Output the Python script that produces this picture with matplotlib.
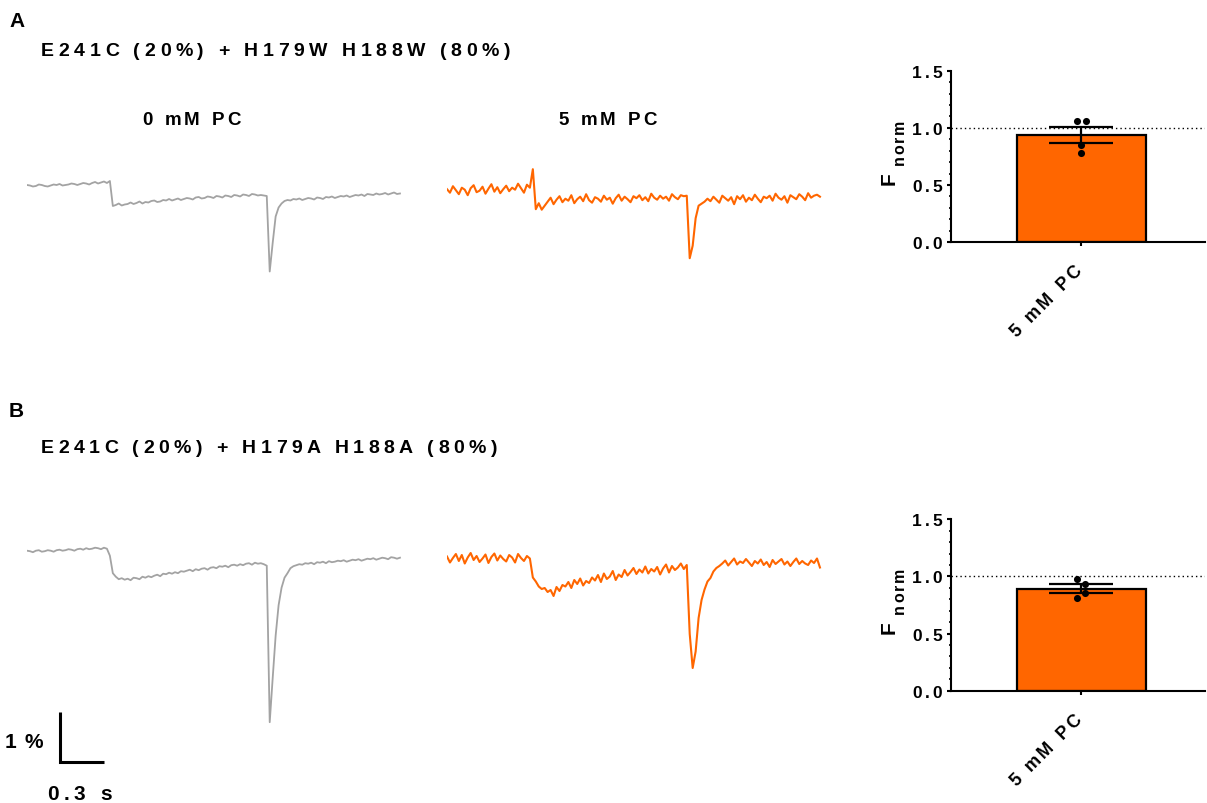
import numpy as np
import matplotlib
matplotlib.use("Agg")
import matplotlib.pyplot as plt
from matplotlib.font_manager import FontProperties
from matplotlib.ticker import MultipleLocator

# ---- data ----------------------------------------------------------------
# fluorescence traces, one sample every 20 ms, values in 0.01 % (dF/F)
DT = 0.02
trace_a_0pc = [
    0, -1, -3, -2, 1, 0, -2, -3, -1, 1, 0, 2, -1, 0, 1, 3, 2, 0, 2, 4,
    3, 1, 4, 6, 3, 5, 7, 4, 8,
    -42, -40, -37, -41, -39, -38, -35, -38, -36, -33,
    -37, -34, -35, -32, -31, -34, -33, -30, -31, -28,
    -31, -29, -27, -30, -28, -26, -27, -29, -25, -24,
    -27, -26, -23, -24, -26, -22, -23, -25, -21, -22,
    -24, -20, -21, -23, -19, -20, -22, -18, -19, -21, -20, -21,
    -22, -173, -116, -63, -45, -37, -32,
    -30, -31, -28, -29, -27, -30, -28, -26, -27, -29,
    -25, -26, -28, -24, -25, -23, -26, -24, -22, -23,
    -21, -24, -22, -20, -21, -19, -22, -18, -19, -20,
    -17, -19, -18, -16, -19, -17, -15, -18, -17,
]
trace_a_5pc = [
    3, -4, 9, 1, -7, 6, 2, -9, 5, 11, -3, 0, 8, -6, 4, 13, -2, 7, -5, 3,
    10, -1, 6, 2, 14, 5, -4, 12, 6,
    43, -37, -25, -38, -30,
    -22, -14, -27, -18, -11, -23, -16, -20, -9, -25,
    -17, -12, -21, -7, -19, -24, -13, -16, -22, -10,
    -18, -14, -26, -15, -8, -20, -12, -17, -23, -11,
    -15, -9, -19, -13, -21, -6, -14, -18, -10, -16,
    -12, -20, -7, -13, -17, -9, -11,
    -10, -135, -110, -55, -30, -26, -22,
    -16, -21, -12, -18, -24, -10, -15, -20, -13, -27,
    -11, -17, -9, -22, -14, -19, -8, -16, -23, -12,
    -15, -10, -20, -6, -14, -18, -11, -24, -9, -13,
    -17, -7, -12, -19, -5, -14, -10, -8, -12,
]
trace_b_0pc = [
    0, -1, -3, 0, 1, -2, -1, 1, 0, -2, 1, 2, 0, 1, 3, 2, 0, 3, 4, 2,
    5, 3, 4, 6, 5, 3, 6, 4,
    -10, -45, -52, -57,
    -55, -58, -56, -59, -54, -55, -57, -52, -54, -51,
    -53, -50, -48, -51, -46, -47, -44, -46, -43, -45,
    -41, -42, -40, -38, -41, -37, -39, -36, -35, -38,
    -34, -33, -35, -31, -32, -30, -33, -29, -28, -30,
    -27, -29, -26, -25, -28, -24, -26, -25, -27,
    -30, -343, -255, -170, -109, -74, -54, -45, -35, -31,
    -29, -27, -28, -25, -26, -24, -27, -23, -24, -22,
    -25, -21, -23, -22, -20, -21, -19, -22, -20, -18,
    -19, -17, -20, -18, -16, -17, -15, -18, -16, -14,
    -15, -17, -13, -14, -16, -14,
]
trace_b_5pc = [
    5, -7, 2, 10, -4, 8, -9, 3, 12, -2, 6, -6, 1, 9, -8, 4, 11, -3, 7, 0,
    -5, 8, 3, -7, 10, 2, -4, 6, 1,
    -37, -45, -55, -60, -58, -66, -62, -74, -56, -64, -52,
    -55, -46, -58, -42, -50, -39, -53, -44, -48, -37,
    -43, -32, -46, -29, -40, -35, -24, -42, -31, -36,
    -22, -33, -26, -18, -30, -21, -27, -15, -29, -20,
    -25, -16, -31, -19, -11, -27, -14, -22, -17, -9, -20,
    -12, -150, -218, -185, -118, -82, -61, -45, -38, -25, -18, -14,
    -9, -3, -13, -6, 1, -11, -5, -8, 0, -7,
    -14, -4, -9, -1, -12, -6, -16, -2, -10, -5,
    0, -11, -5, -14, -6, 1, -10, -4, -9, -12,
    -3, -8, 1, -17,
]

# normalised fluorescence, individual experiments
fnorm_a = [1.056, 1.056, 0.851, 0.778]
fnorm_b = [0.974, 0.933, 0.854, 0.808]
bar_label = "5 mM PC"

title_a = "E241C (20%) + H179W H188W (80%)"
title_b = "E241C (20%) + H179A H188A (80%)"
cond_labels = ["0 mM PC", "5 mM PC"]
yticks = [0.0, 0.5, 1.0, 1.5]

# ---- style / layout ------------------------------------------------------
GRAY = "#a3a3a3"
ORANGE = "#ff6600"
W, H = 1207, 804
PX_S = 148.0     # pixels per second
PX_PCT = 50.0    # pixels per 1 %

fig = plt.figure(figsize=(W / 100, H / 100), dpi=100)
renderer = fig.canvas.get_renderer()


def add_px_axes(left, top, width, height):
    return fig.add_axes([left / W, 1 - (top + height) / H, width / W, height / H])


def spaced(x, y, s, size, width=None, rot=0, ha="left"):
    """Bold text with GraphPad-like letter spacing; x, y in pixels from top-left."""
    prop = FontProperties(family="Liberation Sans", weight="bold", size=size)
    ref = renderer.get_text_width_height_descent("||", prop, ismath=False)[0]
    widths = [renderer.get_text_width_height_descent("|" + c + "|", prop, ismath=False)[0] - ref
              for c in s]
    gap = 0.0 if width is None else (width - sum(widths)) / max(len(s) - 1, 1)
    total = sum(widths) + gap * (len(s) - 1)
    th = np.deg2rad(rot)
    d = -total if ha == "right" else 0.0
    for c, w in zip(s, widths):
        if c != " ":
            px = x + d * np.cos(th)
            py = y - d * np.sin(th)
            fig.text(px / W, 1 - py / H, c, fontproperties=prop, rotation=rot,
                     rotation_mode="anchor", ha="left", va="baseline")
        d += w + gap


def trace_axes(left, base_y, top, bottom, width=390):
    ax = add_px_axes(left, top, width, bottom - top)
    ax.set_xlim(0, width / PX_S)
    ax.set_ylim(-(bottom - base_y) / PX_PCT, (base_y - top) / PX_PCT)
    ax.axis("off")
    return ax


def plot_trace(ax, vals, color, lw):
    v = np.array(vals) / 100.0
    t = np.arange(len(v)) * DT
    ax.plot(t, v, color=color, lw=lw)


def bar_panel(top, vals, label_y, jitter):
    ax = add_px_axes(951, top, 254, 171.5)
    ax.set_xlim(-0.806, 0.765)
    ax.set_ylim(0, 1.5)
    vals = np.array(vals)
    mean = vals.mean()
    sem = vals.std(ddof=1) / np.sqrt(len(vals))
    ax.bar([0], [mean], width=0.8, color=ORANGE, edgecolor="black", linewidth=1.6, zorder=2)
    ax.errorbar([0], [mean], yerr=[sem], color="black", lw=1.6, capsize=22.7,
                capthick=1.6, zorder=3)
    ax.scatter(np.array(jitter), vals, s=26, color="black", zorder=4, linewidths=0)
    ax.axhline(1.0, color="black", lw=1.0, ls=(0, (1, 2.2)), zorder=1)
    for side in ("top", "right"):
        ax.spines[side].set_visible(False)
    for side in ("left", "bottom"):
        ax.spines[side].set_linewidth(1.5)
    ax.set_yticks(yticks)
    ax.yaxis.set_minor_locator(MultipleLocator(0.1))
    ax.set_xticks([0])
    ax.tick_params(axis="both", which="major", length=3, width=1.5,
                   labelleft=False, labelbottom=False)
    ax.tick_params(axis="y", which="minor", length=1.8, width=1.2)
    # tick labels with letter spacing
    for v in yticks:
        _, yd = ax.transData.transform((0, v))
        spaced(942, H - yd + 6, f"{v:.1f}", 12.5, width=30, ha="right")
    # y label F_norm
    _, y0 = ax.transData.transform((0, 0))
    _, y15 = ax.transData.transform((0, 1.5))
    mid = H - (y0 + y15) / 2
    spaced(895, mid + 28, "F", 15, rot=90)
    spaced(904, mid + 8, "norm", 11.5, width=46, rot=90)
    # rotated category label
    spaced(1016, label_y, bar_label, 13, width=94, rot=45)
    return ax


# ---- panel A -------------------------------------------------------------
spaced(9, 27, "A", 15)
spaced(41, 56, title_a, 14, width=469)
spaced(142, 125, cond_labels[0], 13.5, width=99)
spaced(558, 125, cond_labels[1], 13.5, width=99)

ax = trace_axes(27, 186.0, 140, 300)
plot_trace(ax, trace_a_0pc, GRAY, 1.3)
ax = trace_axes(447, 191.7, 140, 300)
plot_trace(ax, trace_a_5pc, ORANGE, 1.5)

bar_panel(71.7, fnorm_a, 338, [-0.025, 0.028, 0.0, 0.0])

# ---- panel B -------------------------------------------------------------
spaced(9, 417, "B", 15)
spaced(41, 453, title_b, 14, width=456)

axb = trace_axes(27, 551.7, 510, 780)
plot_trace(axb, trace_b_0pc, GRAY, 1.3)
ax = trace_axes(447, 560.0, 510, 780)
plot_trace(ax, trace_b_5pc, ORANGE, 1.5)

bar_panel(520.2, fnorm_b, 787, [-0.024, 0.024, 0.024, -0.024])

# ---- scale bar (drawn in trace units: 1 % and 0.3 s) ----------------------
t0 = (60 - 27) / PX_S
v0 = -(763 - 551.7) / PX_PCT
axb.plot([t0, t0, t0 + 0.3], [v0 + 1.0, v0, v0], color="black", lw=2.2,
         clip_on=False, solid_joinstyle="miter", solid_capstyle="butt")
spaced(5, 748, "1 %", 15, width=38)
spaced(47, 800, "0.3 s", 15, width=65)

fig.savefig("out.png", dpi=100)
